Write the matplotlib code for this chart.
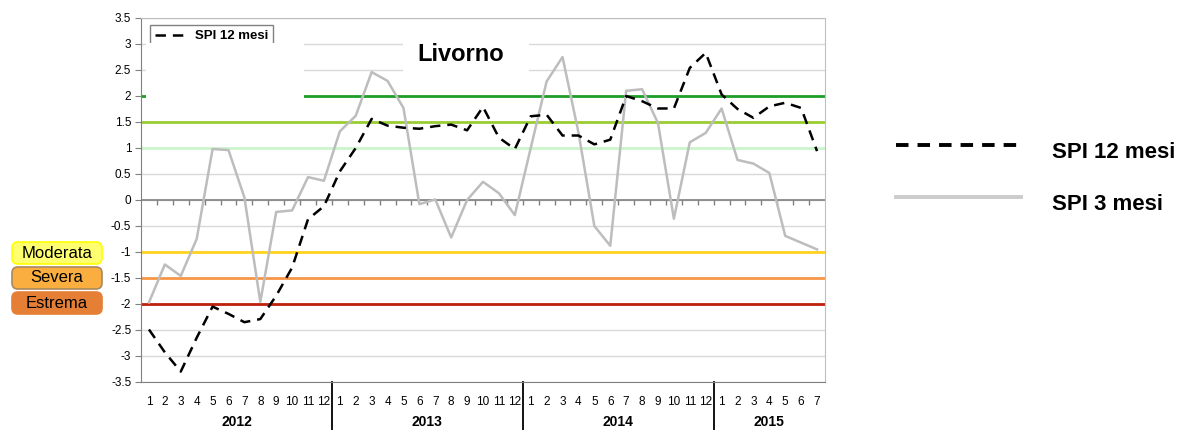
import numpy as np
import matplotlib
matplotlib.use("Agg")
import matplotlib.pyplot as plt
from matplotlib.lines import Line2D
from matplotlib.patches import Rectangle, FancyBboxPatch
from matplotlib.transforms import IdentityTransform, blended_transform_factory

plt.rcParams["font.family"] = ["Liberation Sans", "DejaVu Sans"]
plt.rcParams["lines.scale_dashes"] = False

# dati (gen 2012 - lug 2015)
years = ["2012", "2013", "2014", "2015"]
months_per_year = [12, 12, 12, 7]
spi12 = [-2.49, -2.93, -3.30, -2.65, -2.05, -2.19, -2.35, -2.29, -1.84, -1.30, -0.37, -0.12,
         0.55, 1.00, 1.56, 1.43, 1.39, 1.37, 1.42, 1.45, 1.34, 1.79, 1.20, 0.98,
         1.61, 1.64, 1.24, 1.24, 1.07, 1.16, 2.00, 1.90, 1.76, 1.76, 2.54, 2.83,
         2.03, 1.75, 1.58, 1.80, 1.87, 1.77, 0.94]
spi3 = [-1.97, -1.24, -1.46, -0.75, 0.98, 0.96, 0.05, -1.96, -0.23, -0.20, 0.44, 0.37,
        1.32, 1.62, 2.46, 2.29, 1.77, -0.08, 0.01, -0.72, 0.00, 0.35, 0.13, -0.29,
        1.00, 2.28, 2.75, 1.30, -0.50, -0.88, 2.10, 2.13, 1.48, -0.36, 1.11, 1.29,
        1.76, 0.77, 0.70, 0.52, -0.69, -0.82, -0.95]
soglie = [2, 1.5, 1, -1, -1.5, -2]
colori_soglie = ["#1e9e28", "#9acd32", "#ccf5cc", "#ffd21f", "#f79646", "#c0200c"]
classi = ["Moderata", "Severa", "Estrema"]
colori_classi = [("#ffff70", "#ffff00"), ("#fbae40", "#a88860"), ("#e57f36", "#e57f36")]

months = [m + 1 for n in months_per_year for m in range(n)]
x = np.arange(len(spi12))

fig = plt.figure(figsize=(11.89, 4.30), dpi=100)
ax = fig.add_axes([141 / 1189, 48 / 430, 684 / 1189, 364 / 430])
ax.set_xlim(-0.5, len(x) - 0.5)
ax.set_ylim(-3.5, 3.5)

# griglia
for v in np.arange(-3.5, 3.6, 0.5):
    ax.axhline(v, color="#d9d9d9", lw=1, zorder=0)
for v, c in zip(soglie, colori_soglie):
    ax.axhline(v, color=c, lw=2, zorder=1)

# asse dello zero con tacche
ax.axhline(0, color="#808080", lw=1.2, zorder=2)
ax.vlines(np.arange(0.5, len(x) - 0.5), -0.09, 0, color="#808080", lw=1, zorder=2)

# riquadri bianchi (come nell'originale)
ax.add_patch(Rectangle((-0.17, 1.8), 9.9, 1.21, facecolor="white", edgecolor="none", zorder=6))
ax.add_patch(Rectangle((16.0, 2.45), 7.9, 0.63, facecolor="white", edgecolor="none", zorder=2))
ax.text(19.6, 2.79, "Livorno", fontsize=17, fontweight="bold", ha="center", va="center", zorder=3)

ax.plot(x, spi3, color="#bdbdbd", lw=1.8, zorder=3, label="SPI 3 mesi")
l12, = ax.plot(x, spi12, color="black", lw=1.8, dashes=(7.5, 5), zorder=4, label="SPI 12 mesi")

leg = ax.legend(handles=[l12], loc="upper left", bbox_to_anchor=(0.013, 0.981), borderaxespad=0,
                fancybox=False, edgecolor="#808080", framealpha=1, handlelength=2.2,
                prop={"size": 9.5, "weight": "bold"})
leg.get_frame().set_linewidth(1)
leg.set_zorder(5)

# assi
ax.set_xticks([])
ax.set_yticks(np.arange(-3.5, 3.6, 0.5))
ax.set_yticklabels([f"{v:g}" for v in np.arange(-3.5, 3.6, 0.5)], fontsize=8.5)
ax.tick_params(axis="y", direction="out", length=4, color="#808080", pad=3)
for s in ["top", "right"]:
    ax.spines[s].set_color("#c0c0c0")
for s in ["left", "bottom"]:
    ax.spines[s].set_color("#808080")

tr = blended_transform_factory(ax.transData, ax.transAxes)
for xi, m in zip(x, months):
    ax.text(xi, -0.055, str(m), transform=tr, fontsize=8.5, ha="center", va="center")
start = 0
for y, n in zip(years, months_per_year):
    ax.text(start + (n - 1) / 2, -0.11, y, transform=tr, fontsize=10, fontweight="bold",
            ha="center", va="center")
    start += n
    if start < len(x):
        ax.plot([start - 0.5, start - 0.5], [0, -0.135], transform=tr, color="black",
                lw=1.3, clip_on=False)

# legenda a destra
fig.add_artist(Line2D([896 / 1189, 1021 / 1189], [1 - 145 / 430] * 2, color="black",
                      lw=2.8, dashes=(9, 6.5), transform=fig.transFigure))
fig.add_artist(Line2D([896 / 1189, 1021 / 1189], [1 - 197 / 430] * 2, color="#cccccc",
                      lw=2.8, transform=fig.transFigure))
fig.text(1052 / 1189, 1 - 153 / 430, "SPI 12 mesi", fontsize=16, fontweight="bold", va="center")
fig.text(1052 / 1189, 1 - 204 / 430, "SPI 3 mesi", fontsize=16, fontweight="bold", va="center")

# etichette delle classi di siccità
for i, (lab, (fc, ec)) in enumerate(zip(classi, colori_classi)):
    top = 430 - 241 - 25 * i
    box = FancyBboxPatch((12, top - 23), 90, 22, boxstyle="round,pad=0,rounding_size=6",
                         facecolor=fc, edgecolor=ec, lw=1.2, transform=IdentityTransform())
    fig.add_artist(box)
    fig.text(57 / 1189, (top - 12) / 430, lab, fontsize=12, ha="center", va="center")

fig.savefig("out.png", dpi=100)
